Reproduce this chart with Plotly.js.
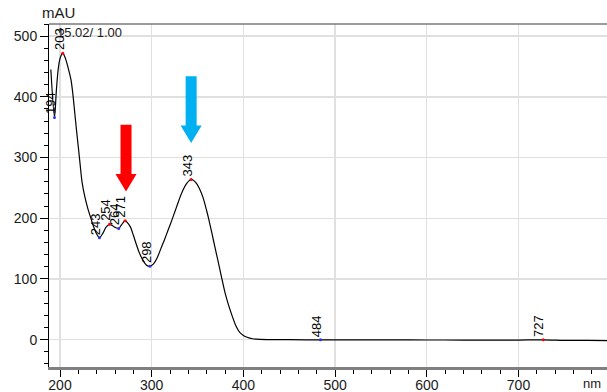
<!DOCTYPE html>
<html>
<head>
<meta charset="utf-8">
<script src="https://cdn.plot.ly/plotly-3.0.1.min.js"></script>
<style>
  html, body { margin: 0; padding: 0; background: #ffffff; }
  #chart { width: 607px; height: 392px; }
</style>
</head>
<body>
<div id="chart"></div>
<script>
// UV absorbance spectrum (wavelength in nm, absorbance in mAU)
const wavelength = [
  190, 194, 196, 198, 200, 203, 206, 209, 212, 214, 216, 218, 220, 222, 224, 227,
  230, 233, 236, 239, 243, 247, 250, 254, 257, 260, 264, 267, 271, 274, 277, 280,
  283, 286, 289, 292, 295, 298, 302, 306, 310, 314, 318, 322, 326, 330, 334, 338,
  341, 343, 346, 349, 352, 356, 360, 362, 366, 369, 372, 376, 380, 384, 388, 392,
  396, 400, 404, 410, 418, 430, 450, 484, 520, 560, 600, 640, 660, 700, 727, 750,
  775, 797
];
const absorbance = [
  445, 366, 410, 445, 463, 472, 463, 447, 428, 405, 375, 345, 317, 288, 260, 236,
  218, 203, 189, 177, 168, 176, 185, 190, 188, 185, 183, 189, 196, 192, 185, 172,
  158, 145, 135, 127, 122, 121, 125, 135, 150, 165, 181, 197, 214, 231, 246, 257,
  262, 264, 262, 257, 249, 234, 212, 200, 173, 152, 132, 104, 77, 56, 38, 22,
  12, 7, 4, 1.5, 0.5, 0.2, 0, -0.3, -0.2, -0.3, -0.5, -0.6, -0.8, -0.6, -0.2, -1,
  -1.2, -1.5
];

// detected band maxima / minima
const peakNm = [194, 203, 243, 254, 264, 271, 298, 343, 484, 727];
const peakKind = ['min', 'max', 'min', 'max', 'min', 'max', 'min', 'max', 'min', 'max'];

const xTickVals = [200, 300, 400, 500, 600, 700];
const yTickVals = [0, 100, 200, 300, 400, 500];
const sampleInfo = '15.02/ 1.00';
const yUnit = 'mAU';
const xUnit = 'nm';

// block arrows highlighting the two absorption bands
const bandArrows = [
  { nm: 272, tip: 244, color: '#ff0000' },
  { nm: 343, tip: 324, color: '#00b0f0' }
];

const FONT = 'Liberation Sans, Arial, Helvetica, sans-serif';

const peakY = peakNm.map(nm => absorbance[wavelength.indexOf(nm)]);

const spectrum = {
  x: wavelength,
  y: absorbance,
  type: 'scatter',
  mode: 'lines',
  line: { color: '#000000', width: 1.2, shape: 'spline', smoothing: 0.8 },
  hoverinfo: 'skip',
  showlegend: false
};

const peakMarks = {
  x: peakNm,
  y: peakY,
  type: 'scatter',
  mode: 'markers',
  marker: {
    size: 3,
    color: peakKind.map(k => (k === 'max' ? '#ff0000' : '#2233ff'))
  },
  hoverinfo: 'skip',
  showlegend: false
};

const peakLabels = peakNm.map((nm, i) => ({
  x: nm,
  y: peakY[i],
  xref: 'x',
  yref: 'y',
  text: String(nm),
  textangle: -90,
  showarrow: false,
  xanchor: 'center',
  yanchor: 'bottom',
  xshift: -4,
  yshift: 1,
  font: { family: FONT, size: 13, color: '#000000' }
}));

const arrowShapes = bandArrows.map(a => {
  const shaft = 6, head = 11.5, headLen = 29, total = 110;
  const base = a.tip + headLen, top = a.tip + total;
  return {
    type: 'path',
    xref: 'x',
    yref: 'y',
    path: `M ${a.nm - shaft} ${top} L ${a.nm + shaft} ${top} L ${a.nm + shaft} ${base} ` +
          `L ${a.nm + head} ${base} L ${a.nm} ${a.tip} L ${a.nm - head} ${base} ` +
          `L ${a.nm - shaft} ${base} Z`,
    fillcolor: a.color,
    line: { width: 0 },
    layer: 'above'
  };
});

const layout = {
  width: 607,
  height: 392,
  margin: { l: 49, r: 0, t: 24, b: 25, pad: 0 },
  paper_bgcolor: '#ffffff',
  plot_bgcolor: '#ffffff',
  font: { family: FONT, size: 14, color: '#1a1a1a' },
  xaxis: {
    range: [188, 796.5],
    tickvals: xTickVals,
    ticktext: xTickVals.map(String),
    ticks: 'outside',
    ticklen: 7,
    tickwidth: 1,
    tickcolor: '#000000',
    ticklabelstandoff: -4,
    showline: true,
    linecolor: '#808080',
    linewidth: 3,
    showgrid: true,
    gridcolor: '#e0e0e0',
    gridwidth: 1.3,
    zeroline: false,
    minor: { dtick: 20, tick0: 200, ticks: 'outside', ticklen: 4, tickcolor: '#000000', showgrid: false },
    tickfont: { family: FONT, size: 14, color: '#1a1a1a' }
  },
  yaxis: {
    range: [-45, 520],
    tickvals: yTickVals,
    ticktext: yTickVals.map(String),
    ticks: 'outside',
    ticklen: 8,
    tickwidth: 1,
    tickcolor: '#000000',
    showline: true,
    linecolor: '#000000',
    linewidth: 1,
    showgrid: true,
    gridcolor: '#e0e0e0',
    gridwidth: 1.3,
    zeroline: false,
    minor: { dtick: 20, tick0: 0, ticks: 'outside', ticklen: 4, tickcolor: '#000000', showgrid: false },
    tickfont: { family: FONT, size: 14, color: '#1a1a1a' }
  },
  shapes: [
    {
      type: 'line', xref: 'paper', yref: 'paper',
      x0: 0, x1: 1, y0: 1, y1: 1,
      line: { color: '#7a7a7a', width: 1.5 }
    }
  ].concat(arrowShapes),
  annotations: [
    {
      xref: 'paper', yref: 'paper', x: 0, y: 1,
      xanchor: 'left', yanchor: 'bottom', xshift: -9, yshift: 1,
      text: yUnit, showarrow: false,
      font: { family: FONT, size: 15, color: '#1a1a1a' }
    },
    {
      xref: 'paper', yref: 'paper', x: 0, y: 1,
      xanchor: 'left', yanchor: 'top', xshift: 6, yshift: 1,
      text: sampleInfo, showarrow: false,
      font: { family: FONT, size: 13, color: '#1a1a1a' }
    },
    {
      xref: 'paper', yref: 'paper', x: 1, y: 0,
      xanchor: 'right', yanchor: 'middle', xshift: -4, yshift: -16,
      text: xUnit, showarrow: false,
      font: { family: FONT, size: 13, color: '#1a1a1a' }
    }
  ].concat(peakLabels)
};

Plotly.newPlot('chart', [spectrum, peakMarks], layout, { staticPlot: true, displayModeBar: false });
</script>
</body>
</html>
